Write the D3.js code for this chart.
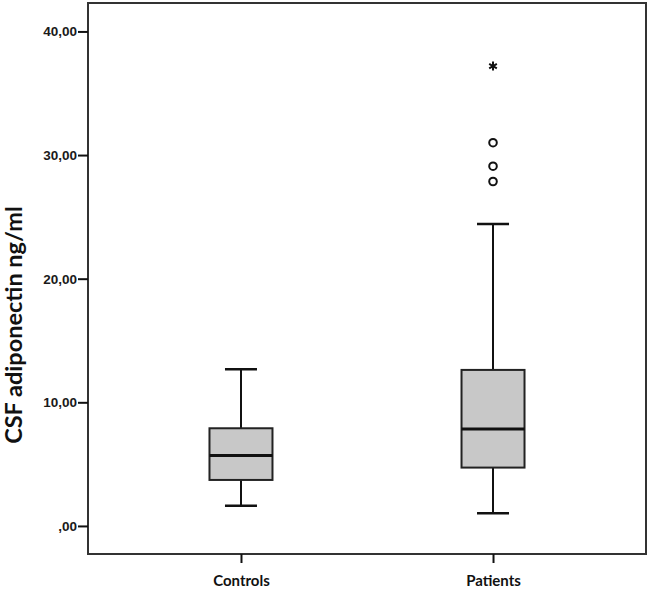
<!DOCTYPE html>
<html>
<head>
<meta charset="utf-8">
<script src="https://cdn.jsdelivr.net/npm/d3@7.9.0/dist/d3.min.js"></script>
<style>
  body { margin: 0; background: #fff; }
  svg { display: block; }
</style>
</head>
<body>
<div id="chart"></div>
<script>
const groups = ['Controls', 'Patients'];
const lowerWhisker = [1.64, 1.03];
const q1 = [3.72, 4.72];
const median = [5.69, 7.85];
const q3 = [7.90, 12.62];
const upperWhisker = [12.68, 24.43];
const outlierGroups = ['Patients', 'Patients', 'Patients'];
const outlierValues = [31.0, 29.1, 27.86];
const extremeGroups = ['Patients'];
const extremeValues = [37.2];
const yTicks = [0, 10, 20, 30, 40];

const width = 650;
const height = 590;
const plot = { left: 88, right: 646, top: 3, bottom: 554 };

const svg = d3.select('#chart')
  .append('svg')
  .attr('width', width)
  .attr('height', height);

const x = d3.scalePoint()
  .domain(groups)
  .range([plot.left, plot.right])
  .padding(0.607);

const y = d3.scaleLinear()
  .domain([-2.27, 42.3])
  .range([plot.bottom, plot.top]);

const boxes = groups.map((g, i) => ({
  group: g,
  lo: lowerWhisker[i], q1: q1[i], med: median[i], q3: q3[i], hi: upperWhisker[i]
}));

const boxW = 63;
const capW = 32;

// frame
svg.append('rect')
  .attr('x', plot.left)
  .attr('y', plot.top)
  .attr('width', plot.right - plot.left)
  .attr('height', plot.bottom - plot.top)
  .attr('fill', 'none')
  .attr('stroke', '#333')
  .attr('stroke-width', 2);

// y axis
const yAxis = svg.append('g')
  .attr('transform', `translate(${plot.left},0)`)
  .call(d3.axisLeft(y)
    .tickValues(yTicks)
    .tickSize(10)
    .tickPadding(1)
    .tickFormat(d => d === 0 ? ',00' : d3.format('.2f')(d).replace('.', ',')));
yAxis.select('.domain').remove();
yAxis.selectAll('line').attr('stroke', '#111').attr('stroke-width', 2);
yAxis.selectAll('text')
  .attr('fill', '#1a1a1a')
  .style('font', 'bold 13.5px "Liberation Sans", Arial, sans-serif');

// x axis
const xAxis = svg.append('g')
  .attr('transform', `translate(0,${plot.bottom})`)
  .call(d3.axisBottom(x).tickSize(9).tickPadding(12));
xAxis.select('.domain').remove();
xAxis.selectAll('line').attr('stroke', '#111').attr('stroke-width', 2);
xAxis.selectAll('text')
  .attr('fill', '#111')
  .style('font', 'bold 15px Lato, "Open Sans", sans-serif');

// y title
svg.append('text')
  .attr('transform', `translate(22,325) rotate(-90)`)
  .attr('text-anchor', 'middle')
  .attr('fill', '#111')
  .style('font', 'bold 23.5px Lato, "Open Sans", sans-serif')
  .text('CSF adiponectin ng/ml');

// boxes
const bx = svg.append('g').selectAll('g')
  .data(boxes)
  .join('g');

bx.append('line')
  .attr('x1', d => x(d.group)).attr('x2', d => x(d.group))
  .attr('y1', d => y(d.hi)).attr('y2', d => y(d.q3))
  .attr('stroke', '#111').attr('stroke-width', 2);
bx.append('line')
  .attr('x1', d => x(d.group)).attr('x2', d => x(d.group))
  .attr('y1', d => y(d.q1)).attr('y2', d => y(d.lo))
  .attr('stroke', '#111').attr('stroke-width', 2);
bx.append('line')
  .attr('x1', d => x(d.group) - capW / 2).attr('x2', d => x(d.group) + capW / 2)
  .attr('y1', d => y(d.hi)).attr('y2', d => y(d.hi))
  .attr('stroke', '#111').attr('stroke-width', 2.5);
bx.append('line')
  .attr('x1', d => x(d.group) - capW / 2).attr('x2', d => x(d.group) + capW / 2)
  .attr('y1', d => y(d.lo)).attr('y2', d => y(d.lo))
  .attr('stroke', '#111').attr('stroke-width', 2.5);
bx.append('rect')
  .attr('x', d => x(d.group) - boxW / 2)
  .attr('width', boxW)
  .attr('y', d => y(d.q3))
  .attr('height', d => y(d.q1) - y(d.q3))
  .attr('fill', '#c8c8c8')
  .attr('stroke', '#222')
  .attr('stroke-width', 2);
bx.append('line')
  .attr('x1', d => x(d.group) - boxW / 2).attr('x2', d => x(d.group) + boxW / 2)
  .attr('y1', d => y(d.med)).attr('y2', d => y(d.med))
  .attr('stroke', '#111').attr('stroke-width', 3);

// outliers
svg.append('g').selectAll('circle')
  .data(outlierValues)
  .join('circle')
  .attr('cx', (d, i) => x(outlierGroups[i]))
  .attr('cy', d => y(d))
  .attr('r', 3.8)
  .attr('fill', '#fff')
  .attr('stroke', '#111')
  .attr('stroke-width', 2);

svg.append('g').selectAll('path')
  .data(extremeValues)
  .join('path')
  .attr('transform', (d, i) => `translate(${x(extremeGroups[i])},${y(d)})`)
  .attr('d', d3.symbol(d3.symbolAsterisk, 55))
  .attr('fill', 'none')
  .attr('stroke', '#111')
  .attr('stroke-width', 2);
</script>
</body>
</html>
